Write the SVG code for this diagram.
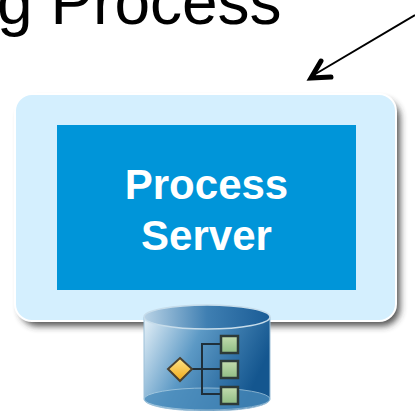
<svg xmlns="http://www.w3.org/2000/svg" width="415" height="411" viewBox="0 0 415 411">
<style>
.sans{font-family:"Liberation Sans",Arial,sans-serif}
.lbl{font-size:42px;font-weight:700;fill:#fff;text-anchor:middle}
.leaf{fill:url(#leaf);stroke:#2d3a38;stroke-width:2.500}
.wire{fill:none;stroke:#1f2f3a;stroke-width:2}
</style>
<defs>
<filter id="sh" x="-10%" y="-10%" width="125%" height="125%"><feGaussianBlur stdDeviation="3.500"/></filter>
<linearGradient id="cyl" x1="0" y1="0" x2="1" y2="0.35"><stop offset="0" stop-color="#e6f1f8"/><stop offset="0.45" stop-color="#5c99c5"/><stop offset="1" stop-color="#14568f"/></linearGradient>
<linearGradient id="top" x1="0" y1="0" x2="1" y2="0"><stop offset="0" stop-color="#b9d3e6"/><stop offset="0.5" stop-color="#3f7fb2"/><stop offset="1" stop-color="#1a5c96"/></linearGradient>
<linearGradient id="leaf" x1="0" y1="0" x2="0" y2="1"><stop offset="0" stop-color="#c3dcae"/><stop offset="1" stop-color="#8fbc84"/></linearGradient>
<linearGradient id="dia" x1="0" y1="0" x2="0" y2="1"><stop offset="0" stop-color="#ffe58a"/><stop offset="1" stop-color="#f0a818"/></linearGradient>
</defs>
<rect width="415" height="411" fill="#fff"/>
<text class="sans" x="-3" y="24" font-size="64" fill="#000">g Process</text>
<g id="connectors">
<path d="M415 15L312 76" fill="none" stroke="#000" stroke-width="2"/>
<path d="M321 61L311 78L331 77" fill="none" stroke="#000" stroke-width="5" stroke-linecap="round"/>
</g>
<g id="container">
<rect x="20" y="100" width="380" height="226" rx="18" fill="#333" opacity=".85" filter="url(#sh)"/>
<rect x="15" y="94" width="381" height="227" rx="17" fill="#d4effe" stroke="#fff" stroke-width="2"/>
</g>
<g id="process-server">
<rect x="57" y="125" width="299" height="165" fill="#0095d9"/>
<text class="sans lbl" x="206.500" y="199">Process</text>
<text class="sans lbl" x="206.500" y="250">Server</text>
</g>
<g id="database">
<path d="M144 317V399C144 406 172 411 207 411C243 411 270 406 270 399V317Z" fill="url(#cyl)" stroke="#9dc0d8" stroke-width="1"/>
<ellipse cx="207" cy="399" rx="63" ry="11" fill="#4a8cbc" opacity=".75" stroke="#a8cbe0"/>
<ellipse cx="207" cy="317" rx="63" ry="12" fill="url(#top)" stroke="#c6dcea" stroke-width="1.500"/>
<path class="wire" d="M192 369H222M202 369V344H222M202 369V394H222"/>
<path d="M180 358L192 369L180 381L168 369Z" fill="url(#dia)" stroke="#4a4030" stroke-width="2"/>
<rect class="leaf" x="221" y="336" width="17" height="17"/>
<rect class="leaf" x="221" y="361" width="17" height="17"/>
<rect class="leaf" x="221" y="387" width="17" height="17"/>
</g>
</svg>
